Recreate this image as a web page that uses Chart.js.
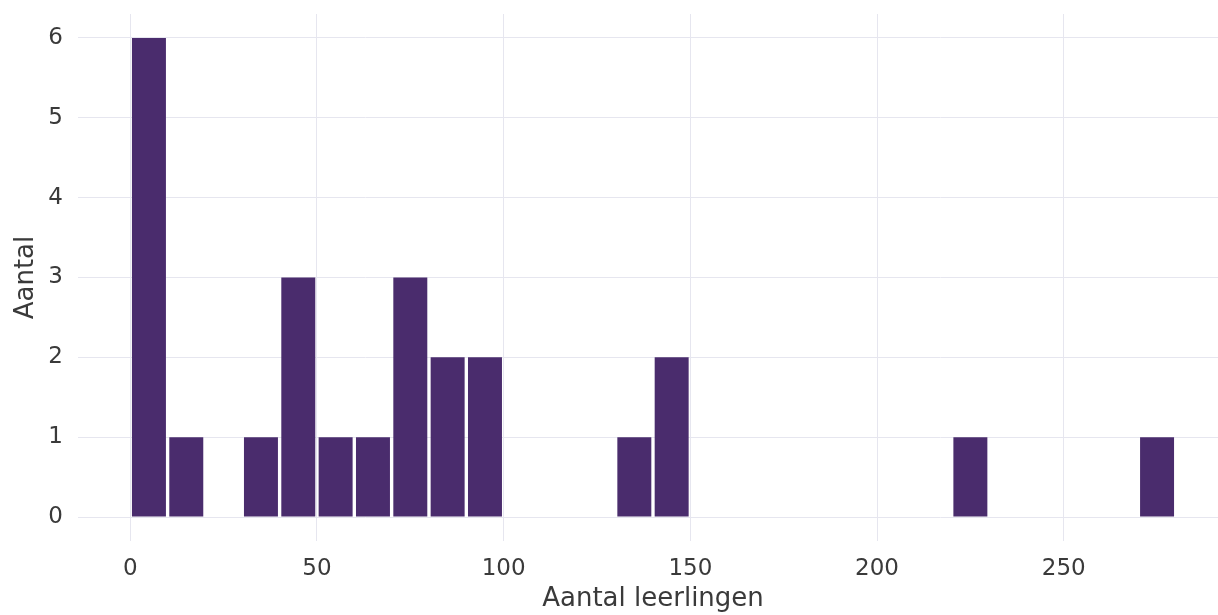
<!DOCTYPE html>
<html>
<head>
<meta charset="utf-8">
<script src="https://cdn.jsdelivr.net/npm/chart.js@4/dist/chart.umd.min.js"></script>
<style>
  html, body { margin: 0; padding: 0; background: #fff; overflow: hidden; }
  #wrap { width: 1228px; height: 615px; position: relative; }
</style>
</head>
<body>
<div id="wrap"><canvas id="chart"></canvas></div>
<script>
// histogram bins (width 10), centers and counts
const binCenters = [5, 15, 25, 35, 45, 55, 65, 75, 85, 95, 105, 115, 125, 135, 145,
  155, 165, 175, 185, 195, 205, 215, 225, 235, 245, 255, 265, 275]
const counts = [6, 1, 0, 1, 3, 1, 1, 3, 2, 2, 0, 0, 0, 1, 2,
  0, 0, 0, 0, 0, 0, 0, 1, 0, 0, 0, 0, 1]
const xTicks = [0, 50, 100, 150, 200, 250]
const yTicks = [0, 1, 2, 3, 4, 5, 6]

const gridColor = '#e6e6ef'
const textColor = '#3a3a3a'

const ctx = document.getElementById('chart')
const histChart = new Chart(ctx, {
  type: 'bar',
  data: {
    datasets: [
      {
        label: 'Aantal',
        data: binCenters.map((x, i) => ({ x: x, y: counts[i] })),
        backgroundColor: '#4a2c6d',
        borderWidth: 0,
        barPercentage: 0.91,
        categoryPercentage: 1
      }
    ]
  },
  options: {
    responsive: true,
    maintainAspectRatio: false,
    animation: false,
    layout: { padding: { top: 14, right: 0, left: 0, bottom: 0 } },
    plugins: {
      legend: { display: false },
      tooltip: { enabled: false }
    },
    scales: {
      x: {
        type: 'linear',
        min: -14,
        max: 294,
        offset: false,
        afterBuildTicks: scale => { scale.ticks = xTicks.map(v => ({ value: v })) },
        afterFit: scale => { scale.height = 74 },
        grid: { color: gridColor, lineWidth: 1, drawTicks: false, offset: false },
        border: { display: false },
        ticks: {
          color: textColor,
          padding: 14,
          maxRotation: 0,
          font: { family: 'DejaVu Sans', size: 23 }
        },
        title: {
          display: true,
          text: 'Aantal leerlingen',
          color: textColor,
          padding: 0,
          font: { family: 'DejaVu Sans', size: 26 }
        }
      },
      y: {
        min: -0.3,
        max: 6.3,
        afterBuildTicks: scale => { scale.ticks = yTicks.map(v => ({ value: v })) },
        afterFit: scale => {
          scale.width = 78
          scale.paddingTop = 0
          scale.paddingBottom = 0
        },
        grid: { color: gridColor, lineWidth: 1, drawTicks: false },
        border: { display: false },
        ticks: {
          color: textColor,
          padding: 15,
          font: { family: 'DejaVu Sans', size: 23 }
        },
        title: {
          display: true,
          text: 'Aantal',
          color: textColor,
          padding: { top: 11, bottom: 0 },
          font: { family: 'DejaVu Sans', size: 26 }
        }
      }
    }
  }
})
</script>
</body>
</html>
